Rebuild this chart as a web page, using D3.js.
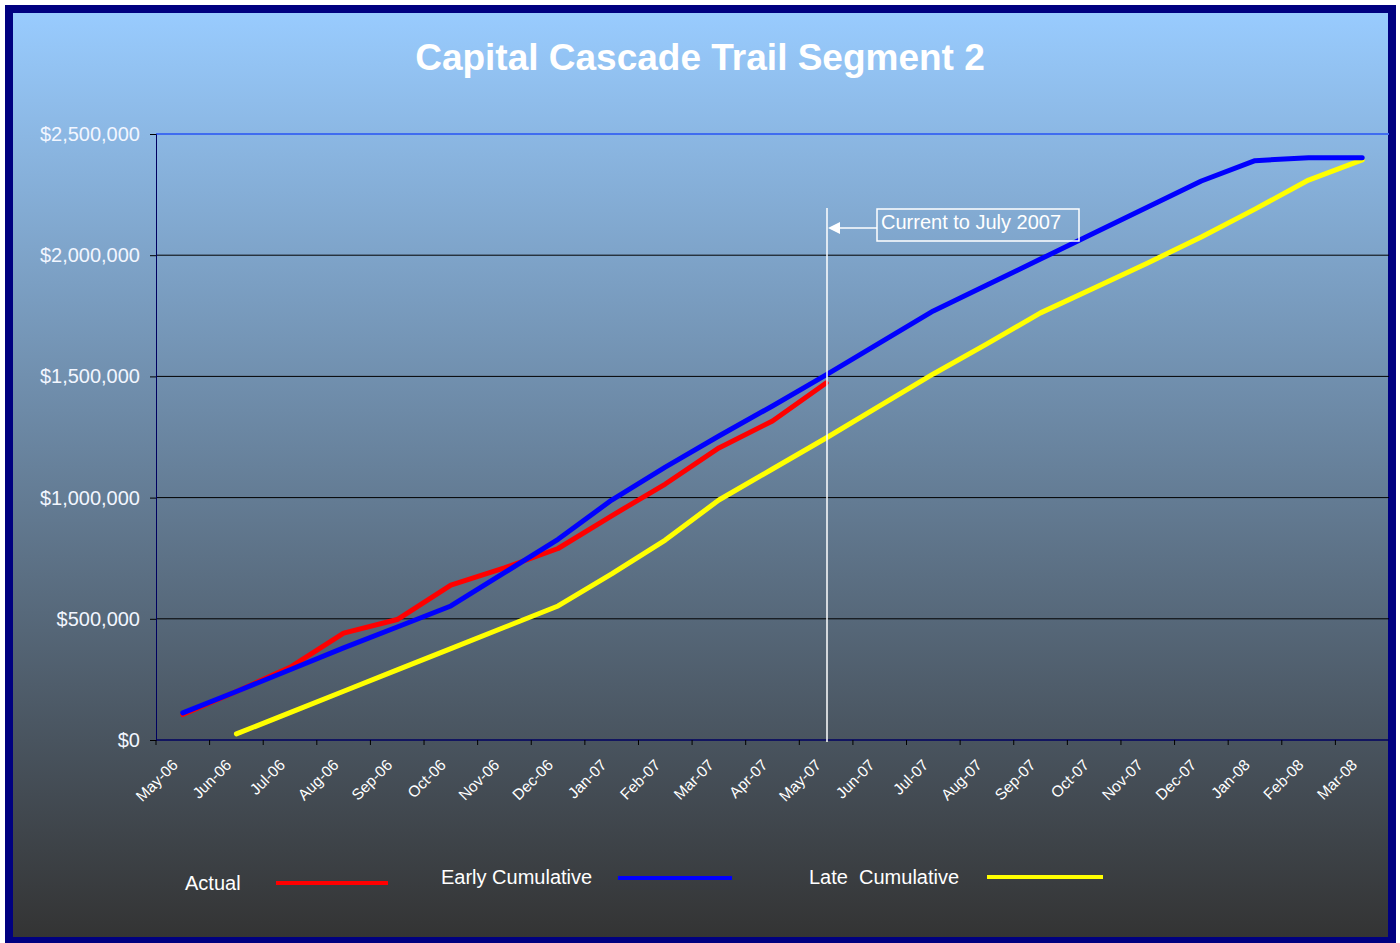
<!DOCTYPE html>
<html>
<head>
<meta charset="utf-8">
<script src="https://cdn.jsdelivr.net/npm/d3@7"></script>
<style>
  body { margin: 0; background: #fff; }
  text { font-family: Arial, "Liberation Sans", sans-serif; }
</style>
</head>
<body>
<div id="chart"></div>
<script>
var width = 1400;
var height = 943;

// months on the x axis
var months = ["May-06","Jun-06","Jul-06","Aug-06","Sep-06","Oct-06","Nov-06","Dec-06",
              "Jan-07","Feb-07","Mar-07","Apr-07","May-07","Jun-07","Jul-07","Aug-07",
              "Sep-07","Oct-07","Nov-07","Dec-07","Jan-08","Feb-08","Mar-08"];

// series values (null = no data for that month)
var actual = [105000,200000,300000,441000,497000,639000,710000,790000,
              925000,1056000,1205000,1316000,1473000];
var early = [112000,200000,290000,380000,466000,553000,690000,828000,
             990000,1126000,1254000,1378000,1506000,1638000,1770000,1877000,
             1984000,2092000,2199000,2306000,2390000,2402000,2402000];
var late = [null,25000,113000,201000,289000,377000,465000,553000,
            685000,825000,990000,1118000,1246000,1378000,1510000,1634000,
            1762000,1865000,1968000,2075000,2190000,2310000,2393000];

var yTicks = [0,500000,1000000,1500000,2000000,2500000];

var svg = d3.select("#chart").append("svg")
    .attr("width", width)
    .attr("height", height);

// background gradient
var grad = svg.append("defs").append("linearGradient")
    .attr("id", "bg").attr("x1", 0).attr("y1", 0).attr("x2", 0).attr("y2", 1);
grad.append("stop").attr("offset", "0%").attr("stop-color", "#99ccff");
grad.append("stop").attr("offset", "100%").attr("stop-color", "#333333");

svg.append("rect")
    .attr("x", 9).attr("y", 9)
    .attr("width", 1383).attr("height", 932)
    .attr("fill", "url(#bg)")
    .attr("stroke", "#000080")
    .attr("stroke-width", 8);

// title
svg.append("text")
    .attr("x", 700).attr("y", 70)
    .attr("text-anchor", "middle")
    .attr("fill", "#fff")
    .style("font-size", "37px")
    .style("font-weight", "bold")
    .text("Capital Cascade Trail Segment 2");

var x = d3.scaleBand().domain(months).range([156, 1389]).padding(0);
var y = d3.scaleLinear().domain([0, 2500000]).range([740, 134]);
var cx = function(i) { return x(months[i]) + x.bandwidth() / 2; };

// gridlines
svg.append("g").selectAll("line")
    .data(yTicks.slice(1, 5))
    .enter().append("line")
    .attr("x1", 156).attr("x2", 1389)
    .attr("y1", function(d) { return y(d); })
    .attr("y2", function(d) { return y(d); })
    .attr("stroke", "#000")
    .attr("stroke-width", 1);

svg.append("line")
    .attr("x1", 156).attr("x2", 1389)
    .attr("y1", y(2500000)).attr("y2", y(2500000))
    .attr("stroke", "#3f6cf0")
    .attr("stroke-width", 2);

// y axis
var yAxis = d3.axisLeft(y)
    .tickValues(yTicks)
    .tickSize(6)
    .tickPadding(10)
    .tickFormat(function(d) { return "$" + d3.format(",")(d); });

var gy = svg.append("g")
    .attr("transform", "translate(156,0)")
    .call(yAxis);
gy.select(".domain").attr("stroke", "#000060");
gy.selectAll(".tick line").attr("stroke", "#000");
gy.selectAll(".tick text")
    .attr("fill", "#f2f6ff")
    .style("font-size", "20px")
    .style("font-family", "Arial, 'Liberation Sans', sans-serif");

// x axis
var gx = svg.append("g").attr("transform", "translate(0,740)");
gx.append("line")
    .attr("x1", 156).attr("x2", 1389)
    .attr("y1", 0).attr("y2", 0)
    .attr("stroke", "#000060")
    .attr("stroke-width", 1.5);
gx.selectAll(".tk")
    .data(months)
    .enter().append("line")
    .attr("class", "tk")
    .attr("x1", function(d) { return x(d); })
    .attr("x2", function(d) { return x(d); })
    .attr("y1", 0).attr("y2", 5)
    .attr("stroke", "#000");
gx.selectAll(".lbl")
    .data(months)
    .enter().append("text")
    .attr("class", "lbl")
    .attr("transform", function(d) {
        return "translate(" + (x(d) + x.bandwidth() / 2 - 4) + ",26) rotate(-45)";
    })
    .attr("text-anchor", "end")
    .attr("fill", "#fff")
    .style("font-size", "15.5px")
    .text(function(d) { return d; });

// lines
var line = d3.line()
    .defined(function(d) { return d != null; })
    .x(function(d, i) { return cx(i); })
    .y(function(d) { return y(d); });

// draw order: yellow, red, blue on top
svg.append("path").datum(late).attr("d", line)
    .attr("fill", "none").attr("stroke", "#ffff00").attr("stroke-width", 5)
    .attr("stroke-linecap", "round").attr("stroke-linejoin", "round");
svg.append("path").datum(actual).attr("d", line)
    .attr("fill", "none").attr("stroke", "#ff0000").attr("stroke-width", 5)
    .attr("stroke-linecap", "round").attr("stroke-linejoin", "round");
svg.append("path").datum(early).attr("d", line)
    .attr("fill", "none").attr("stroke", "#0000ff").attr("stroke-width", 5)
    .attr("stroke-linecap", "round").attr("stroke-linejoin", "round");

// current marker
svg.append("line")
    .attr("x1", 827).attr("x2", 827)
    .attr("y1", 208).attr("y2", 742)
    .attr("stroke", "#fff").attr("stroke-width", 1.5);
svg.append("line")
    .attr("x1", 877).attr("x2", 836)
    .attr("y1", 228).attr("y2", 228)
    .attr("stroke", "#fff").attr("stroke-width", 1.5);
svg.append("path")
    .attr("d", "M828,228 L840,222 L840,234 Z")
    .attr("fill", "#fff");
svg.append("rect")
    .attr("x", 877).attr("y", 209)
    .attr("width", 202).attr("height", 32)
    .attr("fill", "none")
    .attr("stroke", "#fff").attr("stroke-width", 1.5);
svg.append("text")
    .attr("x", 881).attr("y", 229)
    .attr("fill", "#fff")
    .style("font-size", "20px")
    .text("Current to July 2007");

// legend
var legend = [
    { name: "Actual", color: "#ff0000", tx: 185, ty: 890, x1: 276, x2: 388, ly: 883 },
    { name: "Early Cumulative", color: "#0000ff", tx: 441, ty: 884, x1: 618, x2: 732, ly: 878 },
    { name: "Late  Cumulative", color: "#ffff00", tx: 809, ty: 884, x1: 987, x2: 1103, ly: 877 }
];
var lg = svg.append("g").selectAll("g").data(legend).enter().append("g");
lg.append("text")
    .attr("x", function(d) { return d.tx; })
    .attr("y", function(d) { return d.ty; })
    .attr("fill", "#fff")
    .style("font-size", "20px")
    .style("white-space", "pre")
    .attr("xml:space", "preserve")
    .text(function(d) { return d.name; });
lg.append("line")
    .attr("x1", function(d) { return d.x1; })
    .attr("x2", function(d) { return d.x2; })
    .attr("y1", function(d) { return d.ly; })
    .attr("y2", function(d) { return d.ly; })
    .attr("stroke", function(d) { return d.color; })
    .attr("stroke-width", 4);
</script>
</body>
</html>
